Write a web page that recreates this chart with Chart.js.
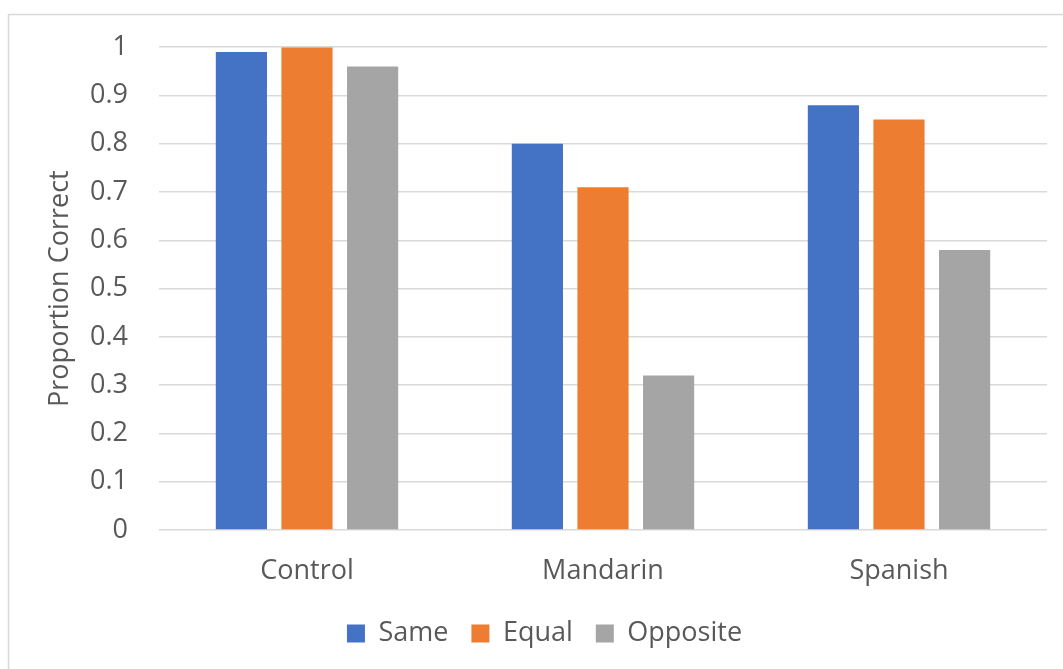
<!DOCTYPE html>
<html>
<head>
<meta charset="utf-8">
<script src="https://cdn.jsdelivr.net/npm/chart.js@4/dist/chart.umd.min.js"></script>
<style>
  html, body { margin: 0; padding: 0; background: #ffffff; }
  #wrap { position: relative; width: 1063px; height: 669px; }
  canvas { display: block; }
</style>
</head>
<body>
<div id="wrap"><canvas id="c" width="1063" height="669"></canvas></div>
<script>
// Groups and measured proportions
const categories = ['Control', 'Mandarin', 'Spanish'];
const seriesNames = ['Same', 'Equal', 'Opposite'];
const sameValues = [0.99, 0.80, 0.88];
const equalValues = [1.00, 0.71, 0.85];
const oppositeValues = [0.96, 0.32, 0.58];
const yTicks = [0, 0.1, 0.2, 0.3, 0.4, 0.5, 0.6, 0.7, 0.8, 0.9, 1];

const colors = ['#4472C4', '#ED7D31', '#A5A5A5'];
const textColor = '#595959';
const gridColor = '#d9d9d9';
const fontFamily = '"Open Sans", "Noto Sans", sans-serif';
const fontSize = 27;

// Light frame around the chart area
const framePlugin = {
  id: 'frame',
  beforeDraw(chart) {
    const ctx = chart.ctx;
    ctx.save();
    ctx.fillStyle = '#ffffff';
    ctx.fillRect(0, 0, chart.width, chart.height);
    ctx.strokeStyle = '#d9d9d9';
    ctx.lineWidth = 1.5;
    ctx.beginPath();
    ctx.moveTo(8.5, chart.height + 2);
    ctx.lineTo(8.5, 14.5);
    ctx.lineTo(chart.width + 2, 14.5);
    ctx.stroke();
    ctx.restore();
  }
};

const values = [sameValues, equalValues, oppositeValues];

new Chart(document.getElementById('c'), {
  type: 'bar',
  data: {
    labels: categories,
    datasets: seriesNames.map((name, i) => ({
      label: name,
      data: values[i],
      backgroundColor: colors[i],
      borderWidth: 0,
      categoryPercentage: 0.665,
      barPercentage: 0.78
    }))
  },
  options: {
    responsive: false,
    animation: false,
    devicePixelRatio: 1,
    layout: { padding: { left: 42, right: 16, top: 47, bottom: 12 } },
    plugins: {
      legend: {
        position: 'bottom',
        labels: {
          color: textColor,
          font: { family: fontFamily, size: fontSize },
          boxWidth: 18,
          boxHeight: 18,
          padding: 23
        }
      },
      tooltip: { enabled: false }
    },
    scales: {
      x: {
        grid: { display: false, drawTicks: false },
        border: { display: false },
        ticks: {
          color: textColor,
          font: { family: fontFamily, size: fontSize },
          padding: 25
        },
        afterFit(scale) { scale.height = 67; }
      },
      y: {
        min: 0,
        max: 1,
        afterBuildTicks(scale) { scale.ticks = yTicks.map(v => ({ value: v })); },
        grid: { color: gridColor, lineWidth: 1.5, drawTicks: false },
        border: { display: false },
        ticks: {
          color: textColor,
          font: { family: fontFamily, size: fontSize },
          padding: 31,
          callback: v => String(Math.round(v * 10) / 10)
        },
        title: {
          display: true,
          text: 'Proportion Correct',
          color: textColor,
          font: { family: fontFamily, size: fontSize },
          padding: { top: 2, bottom: 4 }
        },
        afterFit(scale) { scale.width = 117; }
      }
    }
  },
  plugins: [framePlugin]
});
</script>
</body>
</html>
